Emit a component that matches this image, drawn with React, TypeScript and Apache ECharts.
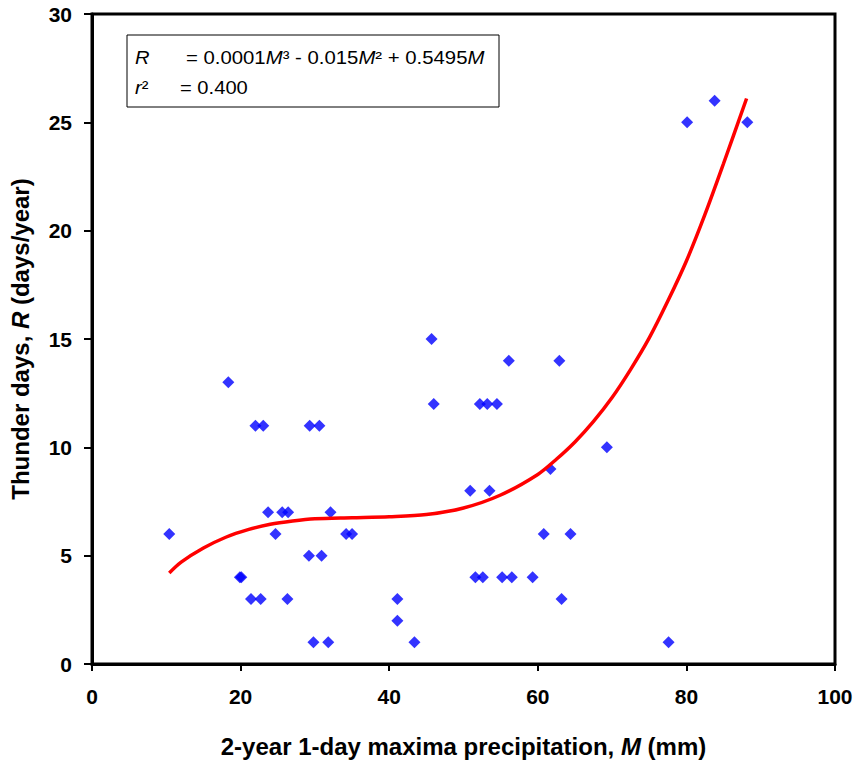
import React, { useEffect, useRef } from "react";
import * as echarts from "echarts";

// Observed points: 2-year 1-day maxima precipitation M (mm) and thunder days R (days/year)
const pointsM = [
  10.4, 18.35, 19.9, 20.1, 21.4, 22.0, 22.7, 23.05, 23.7, 24.7, 25.6, 26.3, 26.4,
  29.2, 29.3, 29.8, 30.6, 30.9, 31.8, 32.1, 34.2, 35.0, 41.1, 41.1, 43.4, 45.7,
  46.0, 50.9, 51.6, 52.2, 52.6, 53.2, 53.5, 54.5, 55.2, 56.1, 56.5, 59.3, 60.8,
  61.7, 62.9, 63.2, 64.4, 69.3, 77.6, 80.1, 83.8, 88.2,
];
const pointsR = [
  6, 13, 4, 4, 3, 11, 3, 11, 7, 6, 7, 3, 7,
  5, 11, 1, 11, 5, 1, 7, 6, 6, 3, 2, 1, 15,
  12, 8, 4, 12, 4, 12, 8, 12, 4, 14, 4, 4, 6,
  9, 14, 3, 6, 10, 1, 25, 26, 25,
];

// Fitted cubic trend line
const curveM = [10.4, 12, 15, 18, 21, 24, 27, 30, 35, 40, 45, 50, 55, 60, 62.5, 65, 67.5, 70, 72.5, 75, 77.5, 80, 82.5, 85, 88.1];
const curveR = [4.2, 4.7, 5.35, 5.85, 6.2, 6.45, 6.6, 6.7, 6.75, 6.8, 6.9, 7.2, 7.8, 8.75, 9.45, 10.25, 11.2, 12.3, 13.6, 15.05, 16.75, 18.6, 20.75, 23.1, 26.1];

const xTicks = { min: 0, max: 100, interval: 20 };
const yTicks = { min: 0, max: 30, interval: 5 };

const FONT = "'Liberation Sans', Arial, sans-serif";

export default function App() {
  const ref = useRef<HTMLDivElement>(null);

  useEffect(() => {
    if (!ref.current) return;
    const chart = echarts.init(ref.current, null, { renderer: "svg" });
    const scatterData = pointsM.map((m, i) => [m, pointsR[i]]);
    const curveData = curveM.map((m, i) => [m, curveR[i]]);

    chart.setOption({
      animation: false,
      backgroundColor: "#ffffff",
      textStyle: { fontFamily: FONT },
      grid: {
        left: 90,
        right: 25,
        top: 14,
        bottom: 97,
        show: true,
        borderColor: "#000",
        borderWidth: 3,
        backgroundColor: "transparent",
      },
      xAxis: {
        type: "value",
        min: xTicks.min,
        max: xTicks.max,
        interval: xTicks.interval,
        splitLine: { show: false },
        axisLine: { show: true, lineStyle: { color: "#000", width: 3 } },
        axisTick: { show: true, length: 7, lineStyle: { color: "#000", width: 2 } },
        axisLabel: {
          color: "#000",
          fontSize: 21,
          fontWeight: "bold",
          fontFamily: FONT,
          margin: 22,
        },
        name: "2-year 1-day maxima precipitation, {i|M} (mm)",
        nameLocation: "middle",
        nameGap: 70,
        nameTextStyle: {
          color: "#000",
          fontSize: 24,
          fontWeight: "bold",
          fontFamily: FONT,
          rich: {
            i: { fontSize: 24, fontWeight: "bold", fontStyle: "italic", fontFamily: FONT, color: "#000" },
          },
        },
      },
      yAxis: {
        type: "value",
        min: yTicks.min,
        max: yTicks.max,
        interval: yTicks.interval,
        splitLine: { show: false },
        axisLine: { show: true, lineStyle: { color: "#000", width: 3 } },
        axisTick: { show: true, length: 8, lineStyle: { color: "#000", width: 2 } },
        axisLabel: {
          color: "#000",
          fontSize: 21,
          fontWeight: "bold",
          fontFamily: FONT,
          margin: 20,
        },
        name: "Thunder days, {i|R} (days/year)",
        nameLocation: "middle",
        nameGap: 60,
        nameTextStyle: {
          color: "#000",
          fontSize: 24,
          fontWeight: "bold",
          fontFamily: FONT,
          rich: {
            i: { fontSize: 24, fontWeight: "bold", fontStyle: "italic", fontFamily: FONT, color: "#000" },
          },
        },
      },
      series: [
        {
          type: "scatter",
          data: scatterData,
          symbol: "diamond",
          symbolSize: 12,
          itemStyle: { color: "#0000FF" },
          z: 2,
        },
        {
          type: "line",
          data: curveData,
          smooth: 0.3,
          showSymbol: false,
          symbol: "none",
          lineStyle: { color: "#FF0000", width: 3.5 },
          z: 3,
        },
      ],
      graphic: [
        {
          type: "rect",
          shape: { x: 127, y: 35, width: 372, height: 72 },
          style: { fill: "#fff", stroke: "#000", lineWidth: 1 },
          z: 10,
        },
        {
          type: "text",
          x: 135,
          y: 58,
          scaleX: 1.12,
          z: 11,
          style: {
            text: "{i|R}",
            verticalAlign: "middle",
            fill: "#000",
            rich: { i: { fontSize: 18, fontStyle: "italic", fontFamily: FONT } },
          },
        },
        {
          type: "text",
          x: 186,
          y: 58,
          scaleX: 1.13,
          z: 11,
          style: {
            text: "= 0.0001{i|M}³ - 0.015{i|M}² + 0.5495{i|M}",
            verticalAlign: "middle",
            fill: "#000",
            fontSize: 18,
            fontFamily: FONT,
            rich: { i: { fontSize: 18, fontStyle: "italic", fontFamily: FONT } },
          },
        },
        {
          type: "text",
          x: 135,
          y: 88,
          scaleX: 1.12,
          z: 11,
          style: {
            text: "{i|r}²",
            verticalAlign: "middle",
            fill: "#000",
            fontSize: 18,
            fontFamily: FONT,
            rich: { i: { fontSize: 18, fontStyle: "italic", fontFamily: FONT } },
          },
        },
        {
          type: "text",
          x: 180,
          y: 88,
          scaleX: 1.12,
          z: 11,
          style: {
            text: "= 0.400",
            verticalAlign: "middle",
            fill: "#000",
            fontSize: 18,
            fontFamily: FONT,
          },
        },
      ],
    });

    return () => chart.dispose();
  }, []);

  return (
    <div
      ref={ref}
      style={{ position: "fixed", left: 0, top: 0, width: 860, height: 763 }}
    />
  );
}
